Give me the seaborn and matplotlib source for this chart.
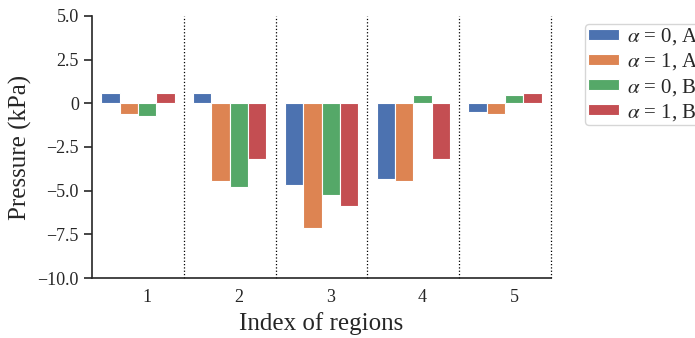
import pandas as pd
import matplotlib
matplotlib.use("Agg")
import matplotlib.pyplot as plt
import seaborn as sns

# valori (kPa)
regions = ["1", "2", "3", "4", "5"]
series = [r"$\alpha$ = 0, A", r"$\alpha$ = 1, A", r"$\alpha$ = 0, B", r"$\alpha$ = 1, B"]
a0_A = [0.6, 0.6, -4.7, -4.35, -0.5]
a1_A = [-0.6, -4.45, -7.15, -4.45, -0.6]
a0_B = [-0.7, -4.8, -5.25, 0.5, 0.5]
a1_B = [0.6, -3.2, -5.9, -3.2, 0.6]
yticks = [5.0, 2.5, 0, -2.5, -5.0, -7.5, -10.0]
ytick_labels = ["5.0", "2.5", "0", "\u22122.5", "\u22125.0", "\u22127.5", "\u221210.0"]

# tabella lunga per seaborn
rows = []
for name, vals in zip(series, [a0_A, a1_A, a0_B, a1_B]):
    for r, v in zip(regions, vals):
        rows.append({"region": r, "series": name, "value": v})
df = pd.DataFrame(rows)

sns.set_theme(style="ticks", palette="deep")
plt.rcParams["font.family"] = ["Liberation Serif", "DejaVu Serif"]
plt.rcParams["mathtext.fontset"] = "stix"

fig = plt.figure(figsize=(6.95, 3.38), dpi=100)
ax = fig.add_axes([0.1324, 0.1775, 0.6604, 0.7752])

sns.barplot(data=df, x="region", y="value", hue="series", order=regions,
            hue_order=series, ax=ax, edgecolor="white", linewidth=0.8,
            width=0.8, errorbar=None, saturation=1)

# linee tratteggiate tra le regioni
for i in range(len(regions)):
    ax.axvline(i + 0.5, color="black", linestyle=":", linewidth=0.9,
               zorder=0, clip_on=False)

ax.set_xlim(-0.5, len(regions) - 0.5)
ax.set_ylim(-10, 5)
ax.set_yticks(yticks)
ax.set_yticklabels(ytick_labels)
ax.set_xticks([i + 0.1 for i in range(len(regions))])
ax.set_xticklabels(regions)
ax.tick_params(axis="x", length=0, labelsize=13, pad=8)
ax.tick_params(axis="y", length=6, width=1.2, labelsize=13, color="#262626")
for s in ["left", "bottom"]:
    ax.spines[s].set_linewidth(1.2)
    ax.spines[s].set_color("#262626")
sns.despine(ax=ax)

ax.set_xlabel("Index of regions", fontsize=18)
ax.set_ylabel("Pressure (kPa)", fontsize=18)

# legenda fuori dagli assi, tagliata dal bordo come nell'originale
ax.legend(loc="upper left", bbox_to_anchor=(585 / 695, 1 - 24 / 338),
          bbox_transform=fig.transFigure, borderaxespad=0, fontsize=15,
          handlelength=1.5, handleheight=0.45, handletextpad=0.38,
          labelspacing=0.2, borderpad=0.12, frameon=True, fancybox=True,
          edgecolor="#cccccc")

fig.savefig("out.png", dpi=100)
